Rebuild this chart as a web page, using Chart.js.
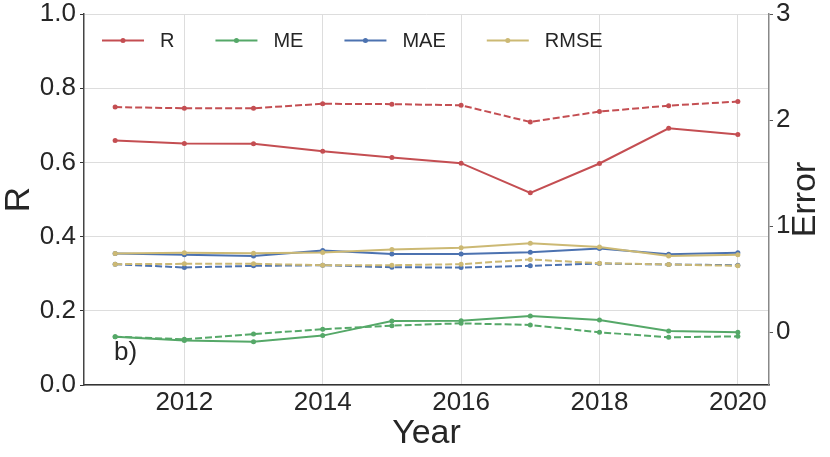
<!DOCTYPE html>
<html>
<head>
<meta charset="utf-8">
<script src="https://cdn.jsdelivr.net/npm/chart.js@4"></script>
<style>
  html, body { margin: 0; padding: 0; background: #fff; }
  #wrap { width: 830px; height: 457px; }
</style>
</head>
<body>
<div id="wrap"><canvas id="chart" width="830" height="457"></canvas></div>
<script>
// Values
const years = [2011, 2012, 2013, 2014, 2015, 2016, 2017, 2018, 2019, 2020];
const xTicks = [2012, 2014, 2016, 2018, 2020];
const rTicks = [0, 0.2, 0.4, 0.6, 0.8, 1.0];
const errorTicks = [0, 1, 2, 3];

// left axis (R)
const rSolid = [0.659, 0.651, 0.650, 0.630, 0.613, 0.598, 0.518, 0.597, 0.692, 0.675];
const rDashed = [0.749, 0.746, 0.746, 0.758, 0.757, 0.754, 0.709, 0.737, 0.753, 0.764];
// right axis (Error)
const meSolid = [-0.044, -0.081, -0.091, -0.034, 0.104, 0.107, 0.151, 0.113, 0.009, -0.003];
const meDashed = [-0.044, -0.069, -0.019, 0.026, 0.060, 0.082, 0.066, -0.003, -0.050, -0.041];
const maeSolid = [0.741, 0.728, 0.716, 0.769, 0.737, 0.737, 0.753, 0.788, 0.734, 0.747];
const maeDashed = [0.640, 0.608, 0.624, 0.630, 0.611, 0.608, 0.624, 0.646, 0.637, 0.630];
const rmseSolid = [0.741, 0.747, 0.744, 0.750, 0.779, 0.794, 0.838, 0.801, 0.718, 0.728];
const rmseDashed = [0.640, 0.643, 0.643, 0.630, 0.630, 0.640, 0.684, 0.649, 0.637, 0.624];

const COLORS = { R: '#c44e52', ME: '#55a868', MAE: '#4c72b0', RMSE: '#ccb974' };
const FONT = "'Liberation Sans', Arial, sans-serif";
const TEXT = '#262626';

let drawIndex = 0;
function series(label, values, color, axis, dashed) {
  drawIndex++;
  return {
    label,
    data: values.map((v, i) => ({ x: years[i], y: v })),
    yAxisID: axis,
    borderColor: color,
    backgroundColor: color,
    borderWidth: 2,
    borderDash: dashed ? [7, 3] : [],
    pointRadius: 2.5,
    pointBorderWidth: 0,
    pointBackgroundColor: color,
    fill: false,
    tension: 0,
    order: 100 - drawIndex, // later series on top, like matplotlib
    legendItem: !dashed,
  };
}

const datasets = [
  series('R', rSolid, COLORS.R, 'y', false),
  series('R', rDashed, COLORS.R, 'y', true),
  series('ME', meSolid, COLORS.ME, 'y1', false),
  series('ME', meDashed, COLORS.ME, 'y1', true),
  series('MAE', maeSolid, COLORS.MAE, 'y1', false),
  series('MAE', maeDashed, COLORS.MAE, 'y1', true),
  series('RMSE', rmseSolid, COLORS.RMSE, 'y1', false),
  series('RMSE', rmseDashed, COLORS.RMSE, 'y1', true),
];

// legend + panel letter + right axis title, drawn matplotlib-style
const extras = {
  id: 'extras',
  afterDraw(chart) {
    const ctx = chart.ctx;
    const area = chart.chartArea;
    ctx.save();

    // legend inside the plot, one row
    ctx.font = '20px ' + FONT;
    ctx.textBaseline = 'middle';
    let x = area.left + 18;
    const y = area.top + 26.5;
    chart.data.datasets.filter(d => d.legendItem).forEach(d => {
      ctx.strokeStyle = d.borderColor;
      ctx.lineWidth = 2;
      ctx.setLineDash([]);
      ctx.beginPath();
      ctx.moveTo(x, y);
      ctx.lineTo(x + 42, y);
      ctx.stroke();
      ctx.fillStyle = d.borderColor;
      ctx.beginPath();
      ctx.arc(x + 21, y, 2.5, 0, Math.PI * 2);
      ctx.fill();
      ctx.fillStyle = TEXT;
      ctx.textAlign = 'left';
      ctx.fillText(d.label, x + 58, y + 1);
      x += 58 + ctx.measureText(d.label).width + 41;
    });

    // panel letter
    ctx.font = '26px ' + FONT;
    ctx.textAlign = 'left';
    ctx.textBaseline = 'alphabetic';
    ctx.fillText('b)', area.left + 30, area.bottom - 25);

    // right axis title, reading bottom to top
    ctx.font = '34px ' + FONT;
    ctx.textAlign = 'center';
    ctx.textBaseline = 'middle';
    ctx.translate(806, (area.top + area.bottom) / 2);
    ctx.rotate(-Math.PI / 2);
    ctx.fillText('Error', 0, 0);
    ctx.restore();
  },
};

new Chart(document.getElementById('chart'), {
  type: 'line',
  data: { datasets },
  plugins: [extras],
  options: {
    responsive: false,
    animation: false,
    devicePixelRatio: 1,
    layout: { padding: { top: 14, left: 0, right: 0, bottom: 0 } },
    plugins: { legend: { display: false }, tooltip: { enabled: false } },
    scales: {
      x: {
        type: 'linear',
        min: 2010.55,
        max: 2020.45,
        afterBuildTicks: s => { s.ticks = xTicks.map(v => ({ value: v })); },
        afterFit: s => { s.height = 72; s.paddingLeft = 0; s.paddingRight = 0; },
        ticks: {
          color: TEXT,
          font: { family: FONT, size: 26, lineHeight: 1.0 },
          padding: 5,
          maxRotation: 0,
          callback: v => String(v),
        },
        grid: { color: '#dddddd', lineWidth: 1, drawTicks: false },
        border: { color: '#333333', width: 1.5 },
        title: {
          display: true,
          text: 'Year',
          color: TEXT,
          font: { family: FONT, size: 34, lineHeight: 1.2 },
          padding: { top: 0, bottom: 3 },
        },
      },
      y: {
        position: 'left',
        min: 0,
        max: 1,
        afterBuildTicks: s => { s.ticks = rTicks.map(v => ({ value: v })); },
        afterFit: s => { s.width = 84; s.paddingTop = 0; s.paddingBottom = 0; },
        ticks: {
          color: TEXT,
          font: { family: FONT, size: 26, lineHeight: 1.0 },
          padding: 4,
          callback: v => v.toFixed(1),
        },
        grid: { color: '#dddddd', lineWidth: 1, tickColor: '#333333', tickLength: 4 },
        border: { color: '#444444', width: 1.5 },
        title: {
          display: true,
          text: 'R',
          color: TEXT,
          font: { family: FONT, size: 35, lineHeight: 1.1 },
          padding: { top: 0, bottom: 0 },
        },
      },
      y1: {
        position: 'right',
        min: -0.5,
        max: 3,
        afterBuildTicks: s => { s.ticks = errorTicks.map(v => ({ value: v })); },
        afterFit: s => { s.width = 61; s.paddingTop = 0; s.paddingBottom = 0; },
        ticks: {
          color: TEXT,
          font: { family: FONT, size: 26, lineHeight: 1.0 },
          padding: 3,
          callback: v => String(v),
        },
        grid: { drawOnChartArea: false, tickColor: '#555555', tickLength: 4 },
        border: { color: '#888888', width: 1.5 },
      },
    },
  },
});
</script>
</body>
</html>
